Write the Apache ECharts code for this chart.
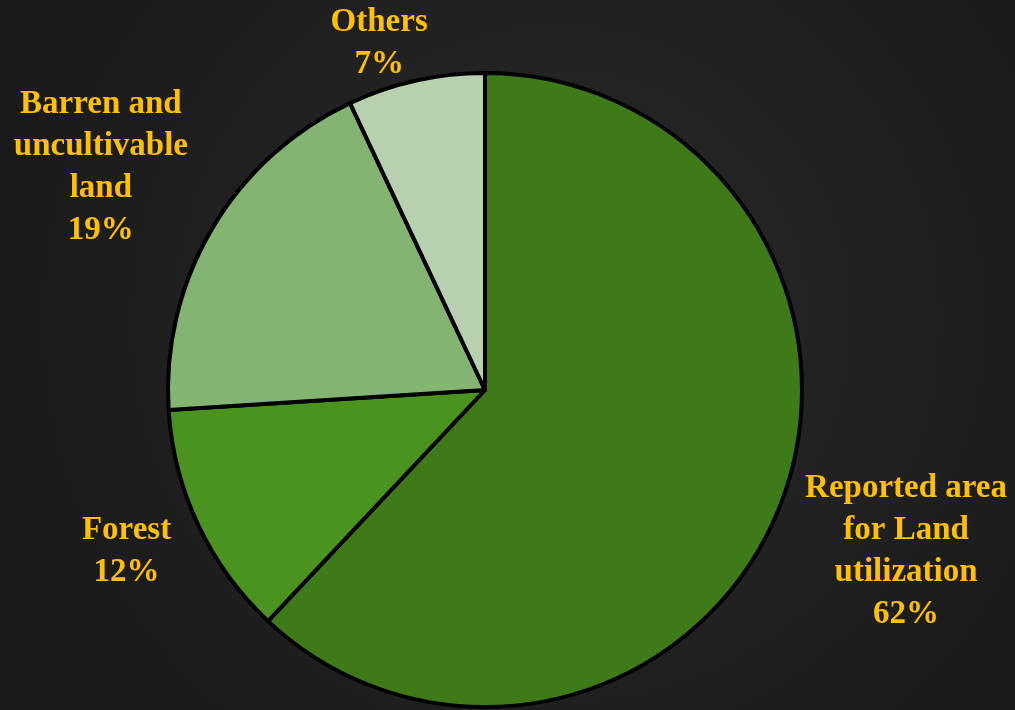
<!DOCTYPE html>
<html>
<head>
<meta charset="utf-8">
<script src="https://cdn.jsdelivr.net/npm/echarts@6/dist/echarts.min.js"></script>
<style>
html,body{margin:0;padding:0;background:#1f1f1f;}
#chart{width:1015px;height:710px;}
</style>
</head>
<body>
<div id="chart"></div>
<script>
// ---- data ----
var categories = [
  "Reported area\nfor Land\nutilization",
  "Forest",
  "Barren and\nuncultivable\nland",
  "Others"
];
var values = [62, 12, 19, 7];
var colors = ["#3E7A18", "#4A931E", "#84B471", "#B8D0B0"];

// ---- layout (label distance beyond the pie edge, px; angle nudge, deg) ----
var CX = 485, CY = 390, R = 317;
var labelGap = [134, 76, 127, 45];
var labelAngleNudge = [-0.6, 1, -0.5, -4.4];

var total = values.reduce(function (a, b) { return a + b; }, 0);
var midAngles = [];
(function () {
  var acc = 0;
  for (var i = 0; i < values.length; i++) {
    midAngles.push((acc + values[i] / 2) / total * 360);
    acc += values[i];
  }
})();

var chart = echarts.init(document.getElementById('chart'));
var option = {
  backgroundColor: {
    type: 'radial', x: 0.55, y: 0.45, r: 0.8,
    colorStops: [
      { offset: 0, color: '#2a2a2a' },
      { offset: 1, color: '#1a1a1a' }
    ]
  },
  animation: false,
  series: [{
    type: 'pie',
    center: [CX, CY],
    radius: R,
    startAngle: 90,
    clockwise: true,
    avoidLabelOverlap: false,
    data: categories.map(function (c, i) {
      return { name: c, value: values[i], itemStyle: { color: colors[i] } };
    }),
    itemStyle: { borderColor: '#000', borderWidth: 4 },
    label: {
      show: true,
      position: 'outside',
      formatter: function (p) { return p.name + '\n' + p.value + '%'; },
      color: '#FFC000',
      fontFamily: 'Liberation Serif',
      fontWeight: 'bold',
      fontSize: 33,
      lineHeight: 42
    },
    labelLine: { show: false },
    labelLayout: function (p) {
      var i = p.dataIndex;
      var a = (midAngles[i] + labelAngleNudge[i]) * Math.PI / 180;
      var d = R + labelGap[i];
      return {
        x: CX + Math.sin(a) * d,
        y: CY - Math.cos(a) * d,
        align: 'center',
        verticalAlign: 'middle'
      };
    }
  }]
};
chart.setOption(option);
</script>
</body>
</html>
